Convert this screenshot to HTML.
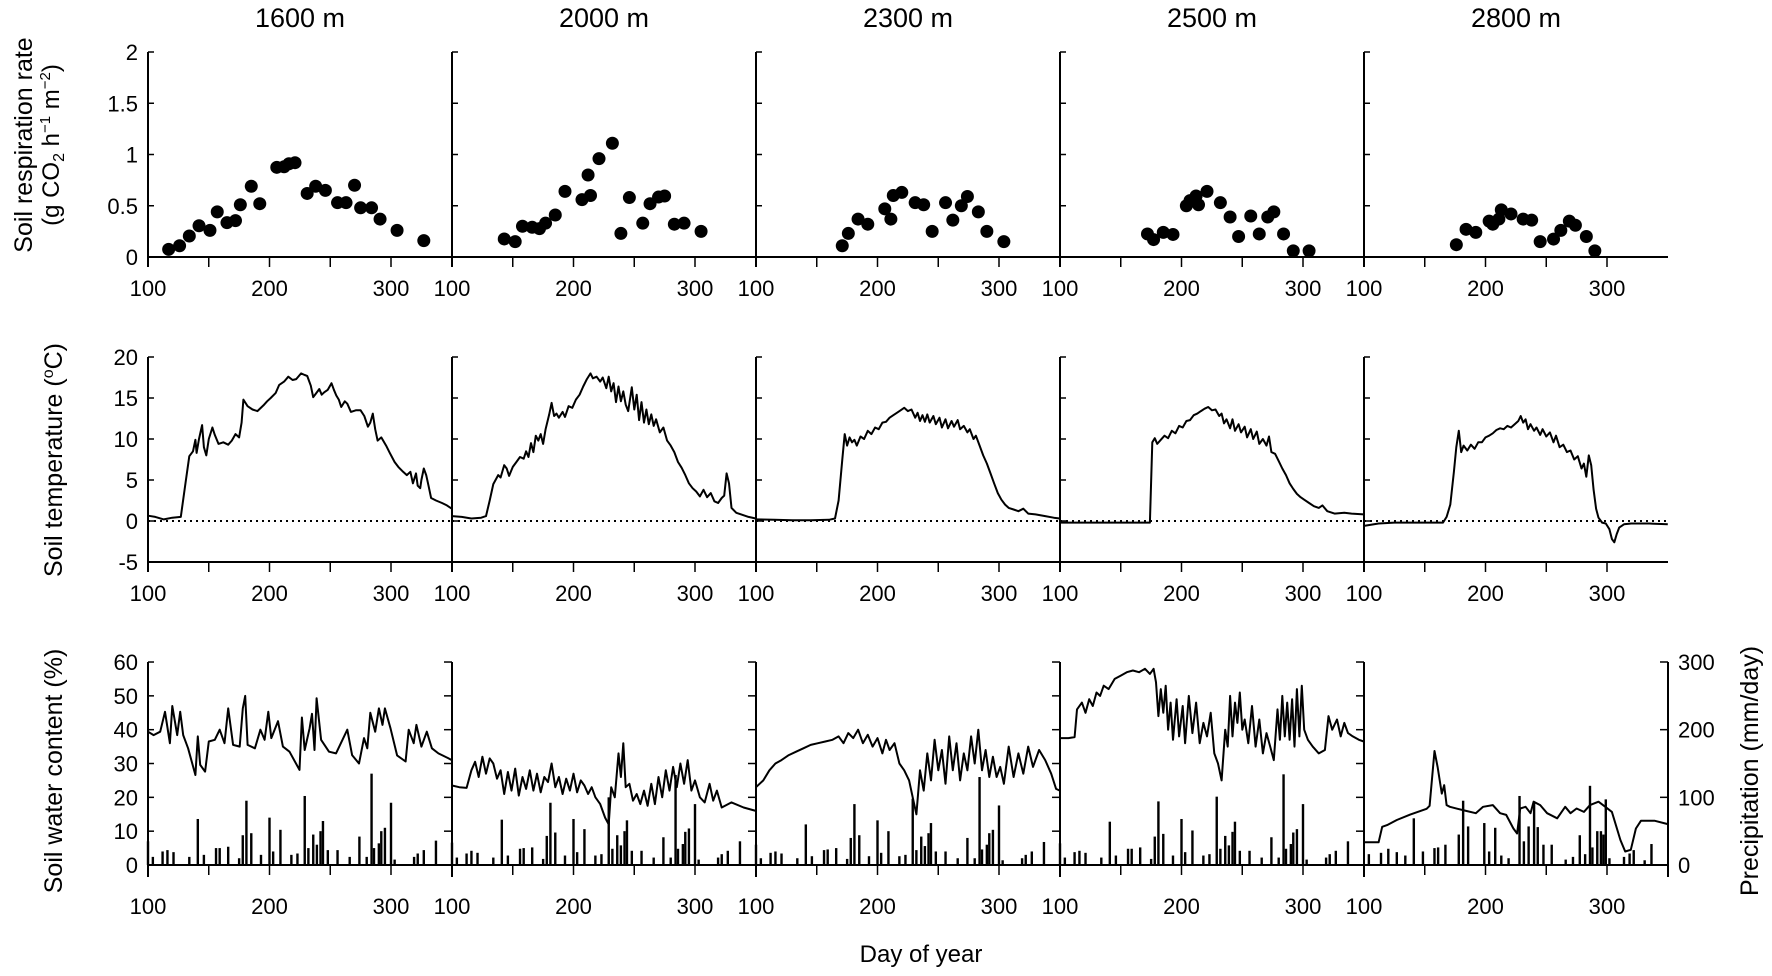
<!DOCTYPE html>
<html><head><meta charset="utf-8">
<style>
html,body{margin:0;padding:0;background:#fff;}
svg{display:block;font-family:"Liberation Sans",Arial,sans-serif;}
</style></head>
<body>
<svg id="chart" width="1772" height="976" viewBox="0 0 1772 976" xmlns="http://www.w3.org/2000/svg"></svg>
<script>
// ---------- DATA ----------
const sites = ["1600 m","2000 m","2300 m","2500 m","2800 m"];
const xTickLabels = [100,200,300];
const respTicks = ["0","0.5","1","1.5","2"];
const tempTicks = [-5,0,5,10,15,20];
const swcTicks = [0,10,20,30,40,50,60];
const precipTicks = [0,100,200,300];

// Soil respiration [day, value]
const resp1600 = [[117,0.075],[126,0.11],[134,0.205],[142,0.305],[151,0.26],[157,0.44],[165,0.335],[172,0.355],[176,0.51],[185,0.69],[192,0.52],[206,0.875],[212,0.88],[216,0.91],[221,0.92],[231,0.62],[238,0.69],[246,0.65],[256,0.53],[263,0.53],[270,0.70],[275,0.48],[284,0.48],[291,0.37],[305,0.26],[327,0.16]];
const resp2000 = [[143,0.176],[152,0.15],[158,0.30],[166,0.29],[172,0.277],[177,0.33],[185,0.41],[193,0.64],[207,0.56],[212,0.80],[214,0.60],[221,0.96],[232,1.11],[239,0.23],[246,0.58],[257,0.33],[263,0.52],[270,0.585],[275,0.595],[283,0.32],[291,0.33],[305,0.25]];
const resp2300 = [[171,0.11],[176,0.23],[184,0.37],[192,0.32],[206,0.47],[211,0.37],[213,0.60],[220,0.63],[231,0.53],[238,0.51],[245,0.25],[256,0.53],[262,0.36],[269,0.50],[274,0.59],[283,0.44],[290,0.25],[304,0.15]];
const resp2500 = [[172,0.225],[177,0.17],[185,0.24],[193,0.22],[204,0.50],[207,0.55],[212,0.595],[214,0.51],[221,0.64],[232,0.53],[240,0.39],[247,0.20],[257,0.40],[264,0.225],[271,0.39],[276,0.44],[284,0.225],[292,0.06],[305,0.06]];
const resp2800 = [[176,0.12],[184,0.27],[192,0.24],[203,0.35],[206,0.32],[211,0.37],[213,0.46],[221,0.42],[231,0.37],[238,0.36],[245,0.15],[256,0.175],[262,0.26],[269,0.35],[274,0.31],[283,0.20],[290,0.06]];
const respSeries = [resp1600,resp2000,resp2300,resp2500,resp2800];

// Soil temperature [day, degC]
const temp1600 = [[100,0.65],[106,0.5],[113,0.2],[120,0.4],[127,0.5],[131,4.8],[134,7.9],[137,8.5],[139,9.9],[140,8.3],[142,10],[144.5,11.7],[146,9],[148,8],[150,10],[153,11.4],[155,10.5],[158,9.4],[162,9.6],[166,9.3],[169,9.8],[172,10.6],[175,10.2],[177,12],[178.5,14.8],[182,14],[186,13.6],[190,13.4],[195,14.1],[198,14.6],[201,15],[205,15.6],[208,16.6],[212,17],[215.5,17.6],[219,17.2],[222,17.3],[226,18],[229,17.8],[231,17.7],[234,16.5],[236,15.1],[238,15.5],[241,16.1],[243,15.4],[245,15.7],[248,16],[251,16.8],[253,16],[255,15.3],[257,14.8],[259,13.9],[262,14.6],[264,14.3],[267,13.3],[271,13.5],[275,13.5],[278,12.8],[281,11.5],[283,12],[285,13.1],[287,11.2],[289,9.8],[292,10.2],[296,9.2],[299,8.3],[303,7.2],[306,6.6],[310,6],[313,5.6],[316,6],[318,4.6],[320.6,5.8],[322,4.3],[324,4],[325,5],[327,6.4],[329,5.6],[331,4.2],[333,2.8],[337,2.5],[342,2.2],[346,1.9],[350,1.5]];
const temp2000 = [[100,0.6],[108,0.5],[116,0.3],[124,0.4],[128,0.6],[131,2.5],[134,4.5],[138,5.6],[140,5.3],[143,6.8],[145,6.4],[147,5.5],[150,6.6],[153,7.2],[156,7.8],[159,7.6],[161,8.5],[163,7.8],[165,9.5],[167,8.4],[169,10.4],[171,9.8],[173,10.6],[175,9.4],[177,11.2],[180,13],[182,14.4],[184,12.8],[186,13.1],[188,12.6],[191,13.3],[193,12.7],[196,14],[199,13.8],[202,14.8],[205,15.4],[208,16.4],[211,17.3],[214,18],[216,17.4],[219,17.6],[222,17],[224,17.5],[227,16.2],[229,17.6],[231,15.8],[233,16.8],[235,14.5],[237,16.4],[239,14.6],[241,15.8],[243,14.2],[245,13.4],[248,16.3],[250,13.6],[252,15.4],[254,12.3],[256,14.5],[258,12],[260,13.6],[262,11.8],[264,13],[266,11.6],[268,12.4],[271,10.8],[274,11.4],[277,9.8],[280,9.2],[283,8.4],[286,7.2],[289,6.5],[292,5.6],[295,4.6],[298,4],[301,3.6],[304,3],[307,3.8],[310,2.9],[313,3.4],[316,2.4],[319,2.2],[322,2.8],[324,3.1],[326,5.8],[328,4.6],[330,1.6],[334,1],[338,0.8],[344,0.5],[350,0.3]];
const temp2300 = [[100,0.2],[115,0.15],[130,0.1],[145,0.1],[160,0.15],[165,0.3],[168,2.5],[171,7.5],[173,10.6],[175,9.2],[177,10.2],[179,9.6],[181,9.9],[183,9.2],[186,10.3],[189,10],[192,11],[195,10.6],[198,11.4],[201,11.2],[204,12],[207,12.1],[210,12.6],[213,12.9],[216,13.2],[219,13.5],[222,13.8],[225,13.4],[228,13.6],[231,12.6],[233,13.2],[235,12.2],[237,12.9],[239,12.1],[241,13],[243,12],[246,12.8],[248,11.8],[251,12.6],[253,11.4],[256,12.4],[258,11.3],[261,12.2],[263,11.5],[266,12.3],[268,11.2],[271,11.6],[274,10.8],[276,11.2],[279,10],[281,10.4],[284,9.2],[287,8],[290,7],[293,5.8],[296,4.6],[299,3.4],[302,2.6],[305,2],[308,1.6],[312,1.4],[316,1.2],[320,1.5],[324,0.9],[330,0.8],[338,0.6],[345,0.4],[350,0.3]];
const temp2500 = [[100,-0.2],[120,-0.2],[140,-0.2],[160,-0.2],[174,-0.2],[176,9.6],[178,10.1],[180,9.4],[183,9.9],[186,10.4],[189,10.1],[192,11],[195,10.7],[198,11.6],[201,11.4],[204,12.2],[207,12.3],[210,12.9],[213,13.1],[216,13.4],[219,13.7],[222,13.9],[225,13.5],[228,13.6],[231,12.8],[233,13.1],[235,11.9],[237,12.4],[240,11.3],[242,12.4],[244,11],[247,11.8],[249,10.8],[252,11.5],[254,10.2],[257,11.2],[259,10],[262,10.9],[264,9.4],[267,10],[270,9.2],[272,10.3],[274,8.4],[277,8.2],[280,7.3],[283,6.4],[286,5.6],[289,4.6],[292,3.9],[295,3.3],[298,2.9],[301,2.6],[305,2.2],[309,1.8],[313,1.6],[316,1.9],[320,1.2],[326,0.9],[334,1.0],[340,0.9],[350,0.8]];
const temp2800 = [[100,-0.6],[112,-0.3],[125,-0.2],[140,-0.2],[155,-0.2],[165,-0.2],[168,0.5],[171,2],[174,6],[176,9],[178,11],[180,8.4],[182,9.2],[185,8.6],[188,9.3],[191,8.8],[194,9.6],[197,9.6],[200,10.2],[203,10.4],[206,10.7],[209,11.1],[212,11.3],[215,11.2],[218,11.6],[221,11.4],[224,11.8],[227,12.2],[229,12.8],[231,12],[233,12.4],[235,11.2],[237,11.8],[240,11],[242,11.4],[245,10.5],[247,11.2],[250,10.3],[253,10.8],[256,9.6],[258,10.4],[261,9],[264,9.3],[267,8.4],[270,8.6],[273,7.5],[276,7.9],[279,6.4],[281,7],[283,5.4],[285,8],[287,6.8],[289,3.8],[291,1.5],[293,0.4],[296,-0.2],[299,-0.3],[302,-1],[304,-2.2],[306,-2.6],[308,-1.6],[310,-0.8],[314,-0.4],[320,-0.3],[335,-0.3],[350,-0.4]];
const tempSeries = [temp1600,temp2000,temp2300,temp2500,temp2800];

// Soil water content [day, %]
const swc1600 = [[100,39.4],[104.6,38.4],[110,39.4],[114,45.3],[118,36],[120,47],[124,38.4],[126.5,45.3],[129,38.4],[133,34.5],[139,26.6],[141,38],[143,29.6],[147,27.6],[150,36.5],[155,37],[159,40],[163,36],[166,46.3],[170,35.5],[175.5,35],[178,46.3],[180,50],[182,35.5],[188,34.5],[192.5,40],[196,37],[199,45.3],[201.5,37.5],[207,42.5],[211,35],[216.5,33.5],[224.7,28.1],[226.7,43.6],[229,34],[233,40.4],[235,44.7],[237,34],[238.8,49.3],[242.5,37],[249,33.5],[254.7,33],[264,40],[268,32.5],[273.7,30],[277.8,37.5],[280.5,34.5],[283,45],[287,39.4],[290,46.3],[293,41.4],[295,46.3],[299.6,40.4],[305,32.4],[312,30.6],[314.6,40],[318.7,36],[320.9,41.4],[325,35],[329.5,39.4],[333.7,34.5],[339,33],[347,31.6],[350,31]];
const swc2000 = [[100,23.5],[106,23],[112,22.8],[116,28],[119,30.5],[122,26],[125,32],[128,27],[131,31.5],[134,30],[137,25.5],[140,28],[143,21],[146,27.5],[149,22],[152,28.5],[155,20.5],[158,26],[161,22.5],[164,28],[167,22],[170,27],[173,21.5],[176,26],[179,24.5],[182,30],[185,23],[188,26],[191,21],[194,25.5],[197,22],[200,27],[203,21.5],[206,25],[209,23.5],[212,21],[215,23],[218,20],[222,18],[226,14],[229,12],[231,23],[234,20],[237,33],[239,26],[241,36],[243,23],[246,24],[249,19],[252,21],[255,18],[258,22],[261,17.5],[264,24],[267,18],[270,26],[273,20],[276,28],[279,22],[282,29],[285,23],[288,30],[291,24],[294,31],[297,22],[300,25],[304,20],[308,18.5],[312,24],[315,19],[318,22],[322,17],[330,18.5],[340,17],[350,16]];
const swc2300 = [[100,23],[106,25],[111,28],[116,30],[121,31],[127,32.5],[133,33.5],[139,34.5],[145,35.5],[151,36],[157,36.5],[163,37],[168,38],[172,36],[176,39],[180,37.5],[184,40],[188,36],[192,38.5],[196,35],[200,37.5],[204,33],[207,37],[210,34],[214,36],[218,30],[222,28],[226,25],[229,20],[232,15],[235,28],[238,22],[241,33],[244,25],[247,37],[250,28],[253,34],[256,24],[259,38],[262,28],[265,36],[268,25],[271,33],[274,28],[277,38],[280,30],[283,40],[286,28],[289,34],[292,26],[295,32],[298,26],[301,29],[304,24],[308,35],[312,26],[316,33],[320,27],[324,35],[328,29],[333,34],[338,31],[343,27],[347,22.5],[350,22]];
const swc2500 = [[100,37.5],[107,37.5],[112,37.8],[114,46],[118,48],[121,45],[124,49],[127,47],[130,51],[133,50],[136,53],[140,52],[145,55],[150,56],[155,57],[160,57.5],[165,57],[170,58],[174,56.5],[177,58],[179,54],[181,44],[183,52],[185,45],[187,53],[189,40],[191,48],[193,37],[196,49],[198,38],[201,47],[203,36],[206,50],[209,39],[212,48],[215,36],[218,42],[221,38],[224,45],[227,33],[230,30],[233,25],[236,40],[238,35],[240,50],[242,38],[244,48],[246,42],[248,51],[250,40],[252,43],[255,36],[258,47],[261,35],[264,43],[267,33],[270,39],[273,35],[276,31],[279,46],[281,37],[283,50],[285,38],[287,48],[289,37],[291,49],[293,35],[295,52],[297,38],[299,53],[301,40],[304,37],[308,35],[313,33],[318,34],[321,44],[324,40],[328,43],[331,38],[334,42],[337,39],[341,38],[346,37],[350,36.5]];
const swc2800 = [[100,6.7],[112,6.7],[115,11.3],[119,11.8],[127,13.3],[138,14.9],[151.5,16.6],[154,17.5],[158,33.7],[160.6,29],[164,21.1],[166,23.6],[168,17.7],[170.7,17.2],[177,16.6],[184,16],[192,15.3],[198,17.2],[206,17.7],[212,15.3],[217,14.8],[223,10.8],[226,9.3],[228.6,16.7],[233,17.2],[237,15.3],[239.6,18.7],[245,17.7],[250.7,15.3],[259,13.8],[265.6,17.2],[270,15.3],[275,16.7],[281,15.7],[286,17.7],[293,18.7],[298.6,17.2],[304,15.7],[311,7.4],[315,4],[319.6,4.5],[323.8,10.8],[328,13.1],[339,13.1],[350,12.1]];
const swcSeries = [swc1600,swc2000,swc2300,swc2500,swc2800];

// Precipitation [day, mm/day]
const prec1600 = [[100,35],[104,12],[112,20],[116,22],[121,19],[134,12],[141,68],[146,15],[156,25],[159,25],[166,27],[175,10],[178,44],[181,95],[185,47],[193,15],[200,70],[203,20],[209,52],[218,15],[223,17],[229,102],[232,25],[236,45],[239,30],[242,50],[244,65],[248,22],[256,22],[266,12],[274,42],[280,12],[284,135],[286,25],[290,32],[292,50],[295,55],[300,92],[303,8],[319,12],[322,17],[327,22],[337,36]];
const prec2000 = [[100,33],[104,11],[112,17],[116,21],[121,18],[134,11],[141,67],[146,14],[156,24],[159,25],[166,26],[175,9],[178,43],[181,92],[185,48],[193,14],[200,68],[203,19],[209,53],[218,14],[223,16],[229,100],[232,24],[236,44],[239,29],[242,50],[244,66],[248,21],[256,21],[266,11],[274,41],[280,11],[284,133],[286,24],[290,31],[292,49],[295,54],[300,90],[303,8],[319,11],[322,16],[327,21],[337,35]];
const prec2300 = [[100,30],[104,10],[112,18],[116,20],[121,17],[134,10],[141,60],[146,13],[156,22],[159,23],[166,25],[175,9],[178,40],[181,90],[185,44],[193,13],[200,66],[203,18],[209,50],[218,13],[223,15],[229,98],[232,22],[236,42],[239,28],[242,47],[244,62],[248,20],[256,20],[266,10],[274,40],[280,10],[284,130],[286,23],[290,30],[292,47],[295,52],[300,88],[303,7],[319,10],[322,15],[327,20],[337,34]];
const prec2500 = [[100,32],[104,11],[112,19],[116,21],[121,18],[134,11],[141,64],[146,14],[156,24],[159,24],[166,26],[175,9],[178,42],[181,94],[185,46],[193,14],[200,68],[203,19],[209,51],[218,14],[223,16],[229,101],[232,24],[236,43],[239,29],[242,49],[244,64],[248,21],[256,21],[266,11],[274,41],[280,11],[284,134],[286,24],[290,31],[292,48],[295,53],[300,90],[303,8],[319,11],[322,16],[327,21],[337,35]];
const prec2800 = [[104,16],[114,18],[120,24],[127,19],[134,14],[141,69],[148.5,20],[158,25],[161,26],[167,30],[178,45],[181.6,95],[185.7,57],[199,62],[203,20],[208,55],[213,14],[219,10],[228,102],[231.6,35],[235.5,57],[240,93],[243,56],[247.7,30],[254.5,30],[266,8],[272,12],[277.6,44],[282,16],[286,117],[288,26],[292,50],[295,50],[297,45],[299,97],[302,10],[314,12],[318.6,17],[322,22],[331,7],[336.6,31]];
const precSeries = [prec1600,prec2000,prec2300,prec2500,prec2800];

// ---------- LAYOUT ----------
const NS = "http://www.w3.org/2000/svg";
const svg = document.getElementById("chart");
const PW = 304, L0 = 148, DAYPX = 1.215;
function px(i, d){ return L0 + i*PW + (d-100)*DAYPX; }
const yResp = v => 257 - v*102.5;
const yTemp = v => 521 - v*8.2;
const ySwc = v => 865 - v*3.383;
const yPrec = v => 865 - v*0.6767;

function el(tag, attrs, parent){
  const e = document.createElementNS(NS, tag);
  for (const k in attrs) e.setAttribute(k, attrs[k]);
  (parent||svg).appendChild(e);
  return e;
}
function txt(x,y,s,size,anchor,parent){
  const t = el("text",{x:x,y:y,"font-size":size,"text-anchor":anchor||"middle",fill:"#000"},parent);
  t.textContent = s;
  return t;
}
const stroke = {stroke:"#000","stroke-width":2,fill:"none"};

// Site titles
sites.forEach((s,i)=>{
  const t = txt(L0+i*PW+PW/2, 27, s, 27);
  
  
});

// Axis titles
function rotTitle(x,y,s,size,name){
  const t = txt(0,0,s,size);
  t.setAttribute("transform","translate("+x+","+y+") rotate(-90)");
  
  
  return t;
}
rotTitle(32,145,"Soil respiration rate",25,"resp-y-title");
{
  const t = txt(0,0,"",24);
  t.setAttribute("transform","translate(59,145) rotate(-90)");
  t.innerHTML = '(g CO<tspan font-size="16" dy="5">2</tspan><tspan dy="-5"> h</tspan><tspan font-size="15" dy="-9">−1</tspan><tspan dy="9"> m</tspan><tspan font-size="15" dy="-9">−2</tspan><tspan dy="9">)</tspan>';
  
  
}
{
  const t = txt(0,0,"",25);
  t.setAttribute("transform","translate(62,460) rotate(-90)");
  t.innerHTML = 'Soil temperature (<tspan font-size="16" dy="-9">o</tspan><tspan dy="9">C)</tspan>';
  
  
}
rotTitle(62,771,"Soil water content (%)",25,"swc-y-title");
rotTitle(1758,771,"Precipitation (mm/day)",25,"precip-y-title");
{
  const t = txt(921,962,"Day of year",24);
  
  
}

function xAxis(i, yAxis, labelY, g){
  for (let d=100; d<350; d+=50){
    el("line",{x1:px(i,d),x2:px(i,d),y1:yAxis,y2:yAxis+10,...stroke,"stroke-width":1.5},g);
  }
  xTickLabels.forEach(d=>{
    const t = txt(px(i,d), labelY, String(d), 22, "middle", g);
    
    
  });
}

for (let i=0;i<5;i++){
  const L = L0 + i*PW, R = L + PW;
  // ---- Row 1 ----
  const g1 = el("g",{});
  
  
  el("line",{x1:L,x2:L,y1:yResp(2),y2:yResp(0)+10,...stroke},g1);
  el("line",{x1:L,x2:R,y1:yResp(0),y2:yResp(0),...stroke},g1);
  respTicks.forEach((s,k)=>{
    const v = k*0.5;
    el("line",{x1:L,x2:L+6,y1:yResp(v),y2:yResp(v),...stroke,"stroke-width":1.5},g1);
    if(i===0){
      const t = txt(L-10, yResp(v)+8, s, 22, "end", g1);
      
      
    }
  });
  xAxis(i, yResp(0), 296, g1);
  respSeries[i].forEach(p=>{
    const c = el("circle",{cx:px(i,p[0]),cy:yResp(p[1]),r:6.5,fill:"#000"},g1);
    
    
  });

  // ---- Row 2 ----
  const g2 = el("g",{});
  
  
  el("line",{x1:L,x2:L,y1:yTemp(20),y2:yTemp(-5)+10,...stroke},g2);
  el("line",{x1:L,x2:R,y1:yTemp(-5),y2:yTemp(-5),...stroke},g2);
  el("line",{x1:L,x2:R,y1:yTemp(0),y2:yTemp(0),stroke:"#000","stroke-width":2,"stroke-dasharray":"2,4"},g2);
  tempTicks.forEach(v=>{
    el("line",{x1:L,x2:L+6,y1:yTemp(v),y2:yTemp(v),...stroke,"stroke-width":1.5},g2);
    if(i===0){
      const t = txt(L-10, yTemp(v)+8, String(v), 22, "end", g2);
      
      
    }
  });
  xAxis(i, yTemp(-5), 601, g2);
  const tl = el("polyline",{points:tempSeries[i].map(p=>px(i,p[0]).toFixed(1)+","+yTemp(p[1]).toFixed(1)).join(" "),...stroke,"stroke-linejoin":"round"},g2);
  
  

  // ---- Row 3 ----
  const g3 = el("g",{});
  
  
  el("line",{x1:L,x2:L,y1:ySwc(60),y2:ySwc(0)+12,...stroke},g3);
  el("line",{x1:L,x2:R,y1:ySwc(0),y2:ySwc(0),...stroke},g3);
  swcTicks.forEach(v=>{
    if(i===0) el("line",{x1:L,x2:L+6,y1:ySwc(v),y2:ySwc(v),...stroke,"stroke-width":1.5},g3);
    else el("line",{x1:L-8,x2:L,y1:ySwc(v),y2:ySwc(v),...stroke,"stroke-width":1.5},g3);
    if(i===0){
      const t = txt(L-10, ySwc(v)+8, String(v), 22, "end", g3);
      
      
    }
  });
  xAxis(i, ySwc(0), 914, g3);
  precSeries[i].forEach(p=>{
    const b = el("rect",{x:px(i,p[0])-1.2,y:yPrec(p[1]),width:2.4,height:yPrec(0)-yPrec(p[1]),fill:"#000"},g3);
    
    
  });
  const sl = el("polyline",{points:swcSeries[i].map(p=>px(i,p[0]).toFixed(1)+","+ySwc(p[1]).toFixed(1)).join(" "),...stroke,"stroke-linejoin":"round"},g3);
  
  
}

// Right precipitation axis
{
  const R = L0 + 5*PW;
  const g = el("g",{});
  
  
  el("line",{x1:R,x2:R,y1:yPrec(300),y2:yPrec(0)+12,...stroke},g);
  precipTicks.forEach(v=>{
    el("line",{x1:R-8,x2:R,y1:yPrec(v),y2:yPrec(v),...stroke,"stroke-width":1.5},g);
    const t = txt(R+10, yPrec(v)+8, String(v), 22, "start", g);
    
    
  });
}
</script>
</body></html>
